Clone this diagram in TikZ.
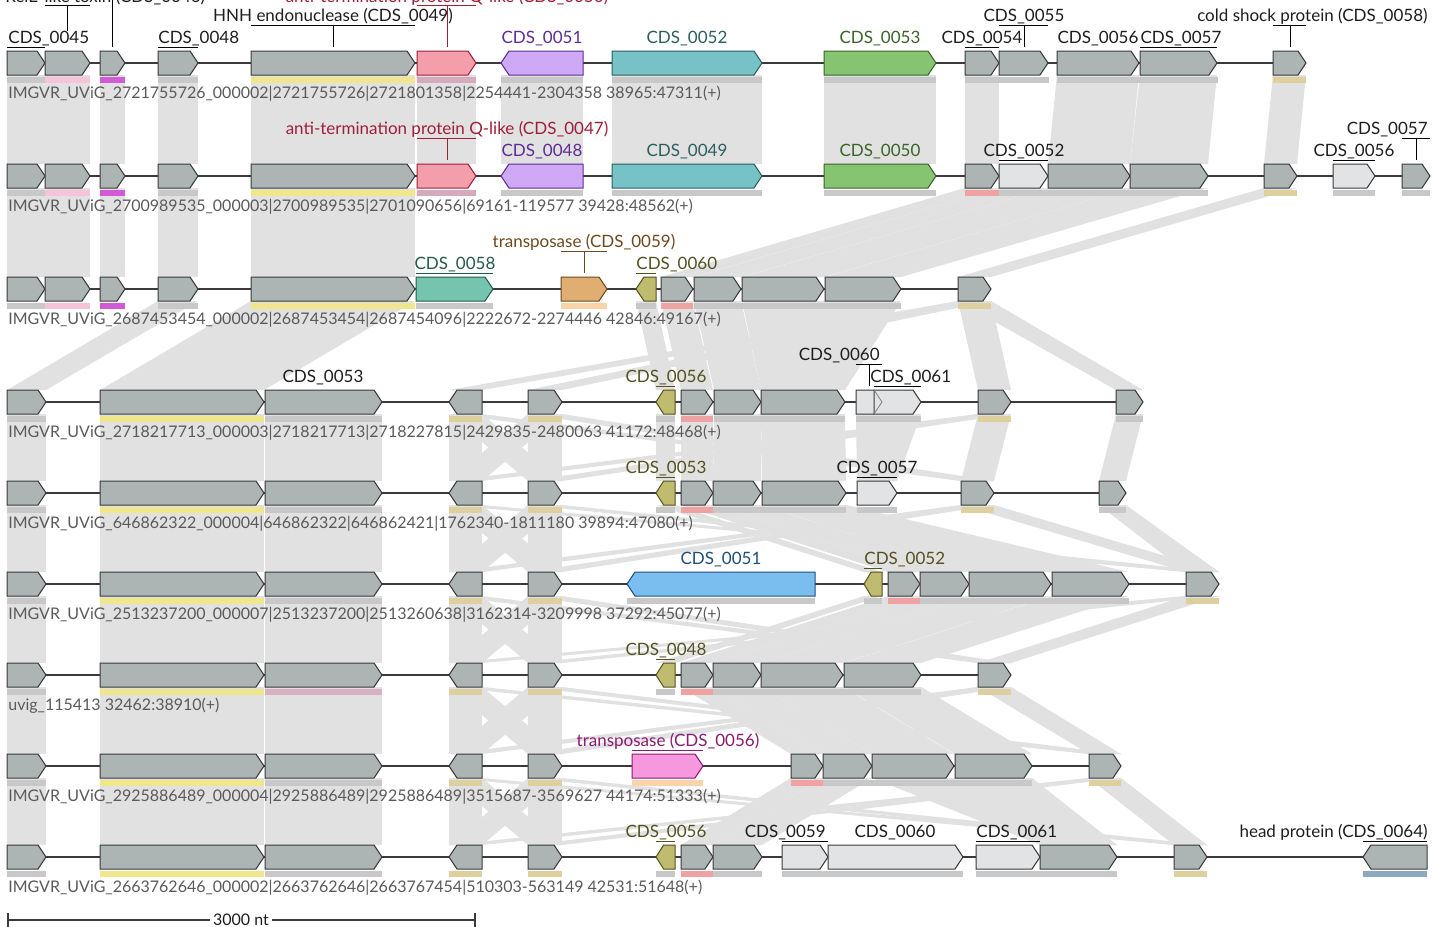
\documentclass[tikz,border=0pt]{standalone}
\usepackage{fontspec}
\setmainfont{Lato}

\definecolor{genegray}{HTML}{ACB4B4}
\definecolor{genelight}{HTML}{E1E3E4}
\definecolor{geneline}{HTML}{3A3A3A}
\definecolor{linkgray}{HTML}{E1E1E1}
\definecolor{trackgray}{HTML}{5A5A5A}
\definecolor{lblblack}{HTML}{1E1E1E}
\definecolor{antifill}{HTML}{F59EAB}
\definecolor{antiline}{HTML}{9E2038}
\definecolor{purpfill}{HTML}{CFA9F5}
\definecolor{purpline}{HTML}{5E2C94}
\definecolor{tealfill}{HTML}{77C2C7}
\definecolor{tealline}{HTML}{2C5E60}
\definecolor{grnfill}{HTML}{86C472}
\definecolor{grnline}{HTML}{3A6428}
\definecolor{teatwofill}{HTML}{75C4AF}
\definecolor{teatwoline}{HTML}{255A4B}
\definecolor{orafill}{HTML}{E1AE72}
\definecolor{oraline}{HTML}{6C4A1E}
\definecolor{olvfill}{HTML}{BFBB6F}
\definecolor{olvline}{HTML}{535220}
\definecolor{bluefill}{HTML}{79BEEF}
\definecolor{blueline}{HTML}{1F4F7A}
\definecolor{magfill}{HTML}{F598DD}
\definecolor{magline}{HTML}{8C1A70}
\definecolor{bargray}{HTML}{C8C8C8}
\definecolor{barpink}{HTML}{F7C3DB}
\definecolor{barmag}{HTML}{D35AD6}
\definecolor{baryel}{HTML}{F0E68C}
\definecolor{barmauve}{HTML}{D6A9BD}
\definecolor{barsalmon}{HTML}{EFA2A2}
\definecolor{bartan}{HTML}{DECF9F}
\definecolor{barorange}{HTML}{F8D4A8}
\definecolor{barrose}{HTML}{D9B0C3}
\definecolor{barhead}{HTML}{8DA8BF}

\tikzset{
  gg/.style={fill=genegray, draw=geneline, line width=0.5pt},
  gw/.style={fill=genelight, draw=geneline, line width=0.5pt},
  ganti/.style={fill=antifill, draw=antiline, line width=0.5pt},
  gpurp/.style={fill=purpfill, draw=purpline, line width=0.5pt},
  gteal/.style={fill=tealfill, draw=tealline, line width=0.5pt},
  ggrn/.style={fill=grnfill, draw=grnline, line width=0.5pt},
  gteatwo/.style={fill=teatwofill, draw=teatwoline, line width=0.5pt},
  gora/.style={fill=orafill, draw=oraline, line width=0.5pt},
  golv/.style={fill=olvfill, draw=olvline, line width=0.5pt},
  gblue/.style={fill=bluefill, draw=blueline, line width=0.5pt},
  gmag/.style={fill=magfill, draw=magline, line width=0.5pt},
  spine/.style={draw=geneline, line width=0.6pt},
  lnk/.style={fill=linkgray},
  lbl/.style={inner sep=0pt, anchor=base, text=lblblack, font=\fontsize{8.5}{10}\selectfont},
  trk/.style={inner sep=0pt, anchor=base west, text=trackgray, font=\fontsize{8}{9.6}\selectfont},
  tick/.style={line width=0.5pt}
}

% gene arrows: y, x start, x end, style
\newcommand{\gnr}[4]{%
  \pgfmathsetmacro{\headlen}{min(8,0.4*(#3-#2))}
  \draw[#4] (#2,#1-12) -- (#3-\headlen,#1-12) -- (#3,#1) -- (#3-\headlen,#1+12) -- (#2,#1+12) -- cycle;}
\newcommand{\gnl}[4]{%
  \pgfmathsetmacro{\headlen}{min(8,0.4*(#3-#2))}
  \draw[#4] (#3,#1-12) -- (#2+\headlen,#1-12) -- (#2,#1) -- (#2+\headlen,#1+12) -- (#3,#1+12) -- cycle;}
% group bar under a gene
\newcommand{\gbar}[4]{\fill[#4] (#2,#1+14) rectangle (#3,#1+20);}
% link between two tracks: y1, x1a, x1b, y2, x2a, x2b
\newcommand{\lnk}[6]{\fill[lnk] (#2,#1+12) -- (#3,#1+12) -- (#6,#4-12) -- (#5,#4-12) -- cycle;}

\begin{document}
\begin{tikzpicture}[x=0.5pt, y=-0.5pt]

\fill[white] (0,0) rectangle (1432,927);
\useasboundingbox (0,0) rectangle (1432,927);

% links 1-2
\foreach \ua/\ub in {7/45,45/90,100/125,158/198,251/415,417/476,501/583,612/762,824/936,965/999}{
  \lnk{63}{\ua}{\ub}{176}{\ua}{\ub}}
\lnk{63}{1057}{1139}{176}{1048}{1130}
\lnk{63}{1140}{1217}{176}{1130}{1208}
\lnk{63}{1273}{1306}{176}{1264}{1297}

% links 2-3
\foreach \ua/\ub in {7/45,45/90,100/125,158/198,251/415}{
  \lnk{176}{\ua}{\ub}{289}{\ua}{\ub}}
\lnk{176}{965}{999}{289}{661}{693}
\lnk{176}{999}{1048}{289}{694}{741}
\lnk{176}{1048}{1130}{289}{742}{824}
\lnk{176}{1130}{1208}{289}{825}{901}
\lnk{176}{1264}{1297}{289}{958}{991}

% links 3-4
\lnk{289}{158}{198}{402}{7}{46}
\lnk{289}{251}{415}{402}{100}{264}
\lnk{289}{636}{656}{402}{656}{675}
\lnk{289}{661}{693}{402}{681}{713}
\lnk{289}{694}{741}{402}{714}{761}
\lnk{289}{742}{901}{402}{761}{845}
\foreach \ua/\ub in {449/482,528/562,978/1011,1116/1143}{
  \lnk{289}{958}{991}{402}{\ua}{\ub}}

% shared block of tracks 4-9
\foreach \va/\vb in {402/493,493/584,584/675,675/766,766/857}{
  \foreach \ua/\ub in {7/46,100/264,265/382,449/482,528/562}{
    \lnk{\va}{\ua}{\ub}{\vb}{\ua}{\ub}}
  \lnk{\va}{449}{482}{\vb}{528}{562}
  \lnk{\va}{528}{562}{\vb}{449}{482}
}

% tan group, far links
\foreach \va/\wa/\wb/\vb/\xa/\xb in {402/978/1011/493/961/994, 493/961/994/584/1186/1219, 584/1186/1219/675/978/1011, 675/978/1011/766/1089/1121, 766/1089/1121/857/1174/1207}{
  \lnk{\va}{\wa}{\wb}{\vb}{\xa}{\xb}
  \foreach \ua/\ub in {449/482,528/562}{
    \lnk{\va}{\wa}{\wb}{\vb}{\ua}{\ub}
    \lnk{\va}{\ua}{\ub}{\vb}{\xa}{\xb}
  }
}

% links 4-5
\lnk{402}{656}{675}{493}{656}{675}
\lnk{402}{681}{713}{493}{681}{713}
\lnk{402}{714}{761}{493}{713}{761}
\lnk{402}{761}{845}{493}{762}{846}
\lnk{402}{856}{921}{493}{857}{897}
\lnk{402}{1116}{1143}{493}{1099}{1126}

% links 5-6
\lnk{493}{656}{675}{584}{864}{882}
\lnk{493}{681}{713}{584}{888}{920}
\lnk{493}{713}{761}{584}{920}{969}
\lnk{493}{762}{846}{584}{969}{1129}
\lnk{493}{1099}{1126}{584}{1186}{1219}

% links 6-7
\lnk{584}{864}{882}{675}{656}{675}
\lnk{584}{888}{920}{675}{681}{713}
\lnk{584}{920}{969}{675}{713}{761}
\lnk{584}{969}{1051}{675}{761}{843}
\lnk{584}{1052}{1129}{675}{844}{921}

% links 7-8
\lnk{675}{681}{713}{766}{791}{823}
\lnk{675}{713}{761}{766}{823}{872}
\lnk{675}{761}{843}{766}{872}{954}
\lnk{675}{844}{921}{766}{955}{1032}

% links 8-9
\lnk{766}{791}{823}{857}{681}{713}
\lnk{766}{823}{872}{857}{713}{762}
\lnk{766}{872}{954}{857}{1040}{1117}
\lnk{766}{955}{1032}{857}{1040}{1117}

% backbones
\draw[spine] (7,63) -- (1306,63);
\draw[spine] (7,176) -- (1430,176);
\draw[spine] (7,289) -- (991,289);
\draw[spine] (7,402) -- (1143,402);
\draw[spine] (7,493) -- (1126,493);
\draw[spine] (7,584) -- (1219,584);
\draw[spine] (7,675) -- (1011,675);
\draw[spine] (7,766) -- (1121,766);
\draw[spine] (7,857) -- (1427,857);

% tracks 1-3, shared start
\foreach \va in {63,176,289}{
  \gbar{\va}{7}{45}{bargray} \gbar{\va}{45}{90}{barpink} \gbar{\va}{100}{125}{barmag}
  \gbar{\va}{158}{198}{bargray} \gbar{\va}{251}{415}{baryel}
  \gnr{\va}{7}{45}{gg} \gnr{\va}{45}{90}{gg} \gnr{\va}{100}{125}{gg}
  \gnr{\va}{158}{198}{gg} \gnr{\va}{251}{415}{gg}
}

% tracks 1-2, shared middle
\foreach \va in {63,176}{
  \gbar{\va}{417}{476}{barmauve} \gbar{\va}{501}{583}{bargray}
  \gbar{\va}{612}{762}{bargray} \gbar{\va}{824}{936}{bargray}
  \gnr{\va}{417}{476}{ganti} \gnl{\va}{501}{583}{gpurp}
  \gnr{\va}{612}{762}{gteal} \gnr{\va}{824}{936}{ggrn}
}

% track 1
\gbar{63}{965}{1049}{bargray} \gbar{63}{1057}{1218}{bargray} \gbar{63}{1273}{1306}{bartan}
\gnr{63}{965}{999}{gg} \gnr{63}{999}{1048}{gg}
\gnr{63}{1057}{1139}{gg} \gnr{63}{1140}{1217}{gg}
\gnr{63}{1273}{1306}{gg}

% track 2
\gbar{176}{965}{999}{barsalmon} \gbar{176}{999}{1208}{bargray}
\gbar{176}{1264}{1297}{bartan} \gbar{176}{1333}{1375}{bargray} \gbar{176}{1402}{1430}{bargray}
\gnr{176}{965}{999}{gg} \gnr{176}{999}{1048}{gw}
\gnr{176}{1048}{1130}{gg} \gnr{176}{1130}{1208}{gg}
\gnr{176}{1264}{1297}{gg} \gnr{176}{1333}{1375}{gw} \gnr{176}{1402}{1430}{gg}

% track 3
\gbar{289}{416}{493}{bargray} \gbar{289}{561}{607}{barorange} \gbar{289}{636}{656}{bargray}
\gbar{289}{661}{693}{barsalmon} \gbar{289}{694}{901}{bargray} \gbar{289}{958}{991}{bartan}
\gnr{289}{416}{493}{gteatwo} \gnr{289}{561}{607}{gora} \gnl{289}{636}{656}{golv}
\gnr{289}{661}{693}{gg} \gnr{289}{694}{741}{gg} \gnr{289}{742}{824}{gg}
\gnr{289}{825}{901}{gg} \gnr{289}{958}{991}{gg}

% tracks 4-9, shared start
\foreach \va/\vc in {402/bargray,493/bargray,584/bargray,675/barrose,766/bargray,857/bargray}{
  \gbar{\va}{7}{46}{bargray} \gbar{\va}{100}{264}{baryel} \gbar{\va}{265}{382}{\vc}
  \gbar{\va}{449}{482}{bartan} \gbar{\va}{528}{562}{bartan}
  \gnr{\va}{7}{46}{gg} \gnr{\va}{100}{264}{gg} \gnr{\va}{265}{382}{gg}
  \gnl{\va}{449}{482}{gg} \gnr{\va}{528}{562}{gg}
}

% track 4
\gbar{402}{656}{675}{bargray} \gbar{402}{681}{713}{barsalmon} \gbar{402}{714}{845}{bargray}
\gbar{402}{856}{921}{bargray} \gbar{402}{978}{1011}{bartan} \gbar{402}{1116}{1143}{bargray}
\gnl{402}{656}{675}{golv} \gnr{402}{681}{713}{gg} \gnr{402}{714}{761}{gg} \gnr{402}{761}{845}{gg}
\gnr{402}{856}{882}{gw} \gnr{402}{874}{921}{gw}
\draw[gray, line width=0.4pt] (874,390) -- (882,402) -- (874,414);
\gnr{402}{978}{1011}{gg} \gnr{402}{1116}{1143}{gg}

% track 5
\gbar{493}{656}{675}{bargray} \gbar{493}{681}{713}{barsalmon} \gbar{493}{713}{846}{bargray}
\gbar{493}{857}{897}{bargray} \gbar{493}{961}{994}{bartan} \gbar{493}{1099}{1126}{bargray}
\gnl{493}{656}{675}{golv} \gnr{493}{681}{713}{gg} \gnr{493}{713}{761}{gg} \gnr{493}{762}{846}{gg}
\gnr{493}{857}{897}{gw} \gnr{493}{961}{994}{gg} \gnr{493}{1099}{1126}{gg}

% track 6
\gbar{584}{627}{815}{bargray} \gbar{584}{864}{882}{bargray} \gbar{584}{888}{920}{barsalmon}
\gbar{584}{920}{1129}{bargray} \gbar{584}{1186}{1219}{bartan}
\gnl{584}{627}{815}{gblue} \gnl{584}{864}{882}{golv} \gnr{584}{888}{920}{gg}
\gnr{584}{920}{969}{gg} \gnr{584}{969}{1051}{gg} \gnr{584}{1052}{1129}{gg} \gnr{584}{1186}{1219}{gg}

% track 7
\gbar{675}{656}{675}{bargray} \gbar{675}{681}{713}{barsalmon} \gbar{675}{713}{921}{bargray}
\gbar{675}{978}{1011}{bartan}
\gnl{675}{656}{675}{golv} \gnr{675}{681}{713}{gg} \gnr{675}{713}{761}{gg}
\gnr{675}{761}{843}{gg} \gnr{675}{844}{921}{gg} \gnr{675}{978}{1011}{gg}

% track 8
\gbar{766}{632}{703}{barorange} \gbar{766}{791}{823}{barsalmon} \gbar{766}{823}{1032}{bargray}
\gbar{766}{1089}{1121}{bartan}
\gnr{766}{632}{703}{gmag} \gnr{766}{791}{823}{gg} \gnr{766}{823}{872}{gg}
\gnr{766}{872}{954}{gg} \gnr{766}{955}{1032}{gg} \gnr{766}{1089}{1121}{gg}

% track 9
\gbar{857}{656}{675}{bargray} \gbar{857}{681}{713}{barsalmon} \gbar{857}{713}{762}{bargray}
\gbar{857}{782}{963}{bargray} \gbar{857}{976}{1117}{bargray} \gbar{857}{1174}{1207}{bartan}
\gbar{857}{1363}{1427}{barhead}
\gnl{857}{656}{675}{golv} \gnr{857}{681}{713}{gg} \gnr{857}{713}{762}{gg}
\gnr{857}{782}{828}{gw} \gnr{857}{828}{963}{gw} \gnr{857}{976}{1040}{gw}
\gnr{857}{1040}{1117}{gg} \gnr{857}{1174}{1207}{gg} \gnl{857}{1363}{1427}{gg}

% labels, track 1
\node[lbl, anchor=base west] (a45) at (8,43) {CDS\_0045};
\draw[tick] (7,47) -- (45,47);
\node[lbl, anchor=base west] (a46) at (5,2) {RelE-like toxin (CDS\_0046)};
\draw[tick] (45,5) -- (90,5) (67,5) -- (67,31);
\draw[tick] (112,-4) -- (112,47);
\node[lbl, anchor=base west] (a48) at (158,43) {CDS\_0048};
\draw[tick] (158,47) -- (198,47);
\node[lbl] (a49) at (333,21) {HNH endonuclease (CDS\_0049)};
\draw[tick] (251,25) -- (415,25) (333,25) -- (333,47);
\node[lbl, text=antiline] (a50) at (447,2) {anti-termination protein Q-like (CDS\_0050)};
\draw[tick, antiline] (417,5) -- (476,5) (447,5) -- (447,47);
\node[lbl, text=purpline] (a51) at (542,43) {CDS\_0051};
\node[lbl, text=tealline] (a52) at (687,43) {CDS\_0052};
\node[lbl, text=grnline] (a53) at (880,43) {CDS\_0053};
\node[lbl] (a54) at (982,43) {CDS\_0054};
\draw[tick] (965,47) -- (999,47);
\node[lbl] (a55) at (1024,21) {CDS\_0055};
\draw[tick] (999,25) -- (1048,25) (1024,25) -- (1024,47);
\node[lbl] (a56) at (1098,43) {CDS\_0056};
\node[lbl] (a57) at (1181,43) {CDS\_0057};
\draw[tick] (1140,47) -- (1217,47);
\node[lbl, anchor=base east] (a58) at (1428,21) {cold shock protein (CDS\_0058)};
\draw[tick] (1273,25) -- (1306,25) (1290,25) -- (1290,47);

% labels, track 2
\node[lbl, text=antiline] (b47) at (447,134) {anti-termination protein Q-like (CDS\_0047)};
\draw[tick, antiline] (417,138) -- (476,138) (447,138) -- (447,160);
\node[lbl, text=purpline] (b48) at (542,156) {CDS\_0048};
\node[lbl, text=tealline] (b49) at (687,156) {CDS\_0049};
\node[lbl, text=grnline] (b50) at (880,156) {CDS\_0050};
\node[lbl] (b52) at (1024,156) {CDS\_0052};
\draw[tick] (999,160) -- (1048,160);
\node[lbl] (b56) at (1354,156) {CDS\_0056};
\draw[tick] (1333,160) -- (1375,160);
\node[lbl, anchor=base east] (b57) at (1428,134) {CDS\_0057};
\draw[tick] (1402,138) -- (1430,138) (1416,138) -- (1416,160);

% labels, track 3
\node[lbl, text=teatwoline] (c58) at (455,269) {CDS\_0058};
\draw[tick, teatwoline] (416,273) -- (493,273);
\node[lbl, text=oraline] (c59) at (584,247) {transposase (CDS\_0059)};
\draw[tick, oraline] (561,251) -- (607,251) (584,251) -- (584,273);
\node[lbl, text=olvline, anchor=base west] (c60) at (636,269) {CDS\_0060};
\draw[tick, olvline] (636,273) -- (656,273);

% labels, track 4
\node[lbl] (d53) at (323,382) {CDS\_0053};
\node[lbl, text=olvline] (d56) at (666,382) {CDS\_0056};
\draw[tick, olvline] (656,386) -- (675,386);
\node[lbl, anchor=base east] (d60) at (880,360) {CDS\_0060};
\draw[tick] (856,364) -- (882,364) (869,364) -- (869,386);
\node[lbl, anchor=base west] (d61) at (870,382) {CDS\_0061};
\draw[tick] (874,386) -- (921,386);

% labels, track 5
\node[lbl, text=olvline] (e53) at (666,473) {CDS\_0053};
\draw[tick, olvline] (656,477) -- (675,477);
\node[lbl] (e57) at (877,473) {CDS\_0057};
\draw[tick] (857,477) -- (897,477);

% labels, track 6
\node[lbl, text=blueline] (f51) at (721,564) {CDS\_0051};
\node[lbl, text=olvline, anchor=base west] (f52) at (864,564) {CDS\_0052};
\draw[tick, olvline] (864,568) -- (882,568);

% labels, track 7
\node[lbl, text=olvline] (g48) at (666,655) {CDS\_0048};
\draw[tick, olvline] (656,659) -- (675,659);

% labels, track 8
\node[lbl, text=magline] (h56) at (668,746) {transposase (CDS\_0056)};
\draw[tick, magline] (632,750) -- (703,750);

% labels, track 9
\node[lbl, text=olvline] (i56) at (666,837) {CDS\_0056};
\draw[tick, olvline] (656,841) -- (675,841);
\node[lbl, anchor=base east] (i59) at (826,837) {CDS\_0059};
\draw[tick] (782,841) -- (828,841);
\node[lbl] (i60) at (895,837) {CDS\_0060};
\node[lbl, anchor=base west] (i61) at (976,837) {CDS\_0061};
\draw[tick] (976,841) -- (1040,841);
\node[lbl, anchor=base east] (i64) at (1428,837) {head protein (CDS\_0064)};
\draw[tick] (1363,841) -- (1427,841);

% track names
\node[trk] (t1) at (8,98) {IMGVR\_UViG\_2721755726\_000002|2721755726|2721801358|2254441-2304358 38965:47311(+)};
\node[trk] (t2) at (8,211) {IMGVR\_UViG\_2700989535\_000003|2700989535|2701090656|69161-119577 39428:48562(+)};
\node[trk] (t3) at (8,324) {IMGVR\_UViG\_2687453454\_000002|2687453454|2687454096|2222672-2274446 42846:49167(+)};
\node[trk] (t4) at (8,437) {IMGVR\_UViG\_2718217713\_000003|2718217713|2718227815|2429835-2480063 41172:48468(+)};
\node[trk] (t5) at (8,528) {IMGVR\_UViG\_646862322\_000004|646862322|646862421|1762340-1811180 39894:47080(+)};
\node[trk] (t6) at (8,619) {IMGVR\_UViG\_2513237200\_000007|2513237200|2513260638|3162314-3209998 37292:45077(+)};
\node[trk] (t7) at (8,710) {uvig\_115413 32462:38910(+)};
\node[trk] (t8) at (8,801) {IMGVR\_UViG\_2925886489\_000004|2925886489|2925886489|3515687-3569627 44174:51333(+)};
\node[trk] (t9) at (8,892) {IMGVR\_UViG\_2663762646\_000002|2663762646|2663767454|510303-563149 42531:51648(+)};

% scale bar
\coordinate (s0) at (8,920);
\coordinate (s1) at (475,920);
\draw[spine] (s0) -- (s1);
\draw[spine] (8,913) -- (8,927) (475,913) -- (475,927);
\node[fill=white, inner sep=1.5pt, text=lblblack, font=\fontsize{8}{9.6}\selectfont] (sc) at (241,920) {3000 nt};

\end{tikzpicture}
\end{document}
